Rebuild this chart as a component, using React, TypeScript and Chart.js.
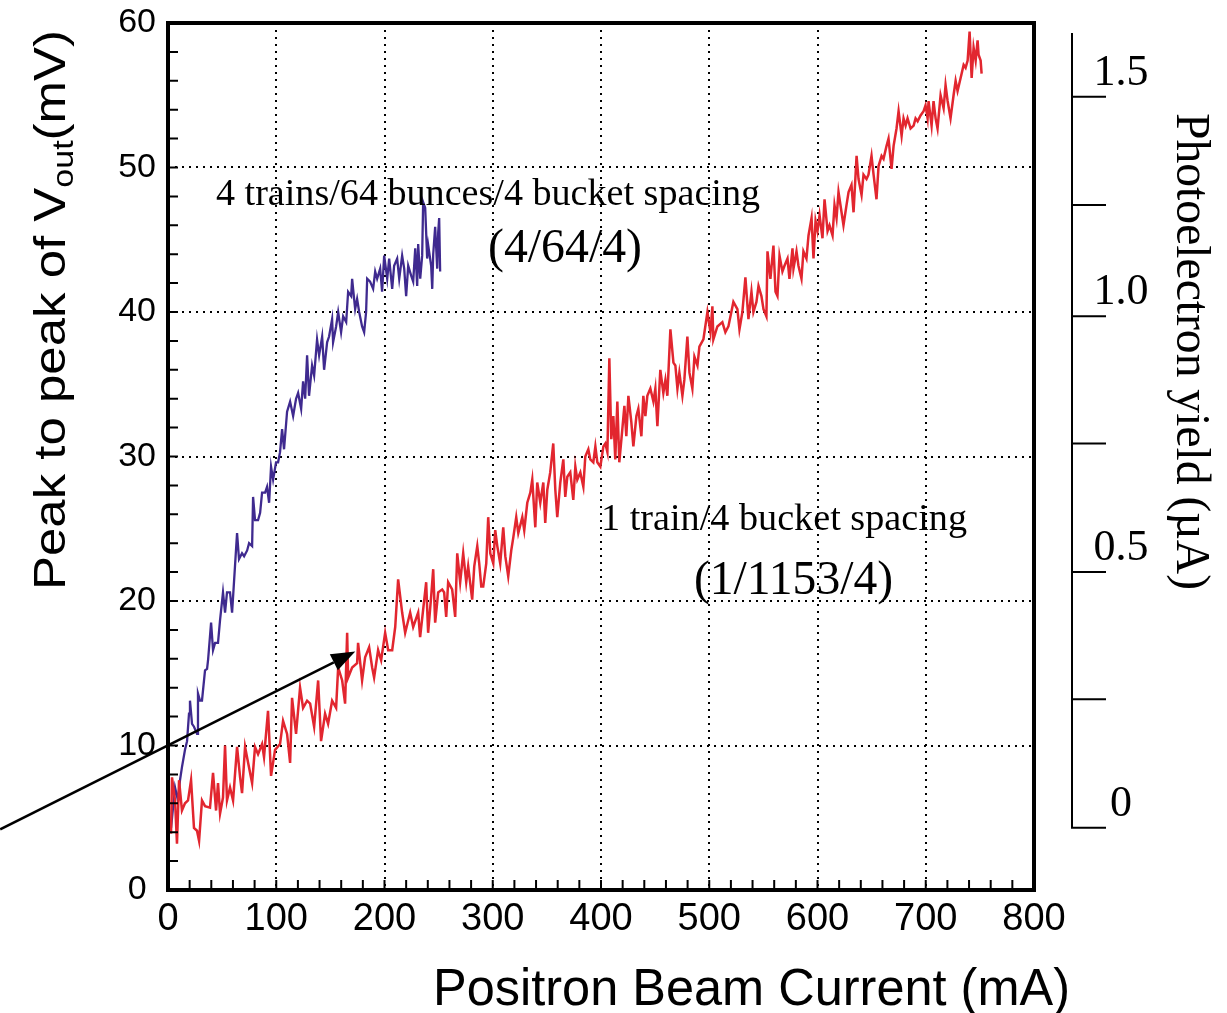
import React, { useEffect, useRef } from 'react';
import { Chart, registerables } from 'chart.js';

Chart.register(...registerables);

// ---------- data (mA, mV) ----------
const redSeries: [number, number][] = [
  [2.8, 3.9], [3.7, 7.8], [6.5, 6.2], [8.3, 3.2], [10.2, 7.6], [12.9, 5.5], [15.7, 6.0], [18.5, 6.2], [21.3, 7.6], [24.0, 4.3],
  [26.8, 4.1], [28.7, 3.4], [31.4, 6.2], [34.2, 5.8], [38.8, 5.7], [41.6, 8.1], [44.4, 5.5], [46.2, 7.4], [48.1, 5.3], [50.8, 6.4],
  [52.7, 10.0], [54.5, 6.2], [57.3, 7.1], [60.1, 6.2], [63.8, 9.9], [66.6, 7.8], [68.4, 6.7], [71.2, 9.9], [74.0, 8.8], [77.7, 7.4],
  [80.4, 9.9], [83.2, 9.4], [86.9, 10.1], [88.7, 9.2], [92.4, 12.4], [95.2, 7.9], [98.9, 9.7], [103.5, 10.1], [106.3, 11.7], [110.0, 10.8],
  [112.8, 8.8], [114.6, 13.3], [118.3, 10.8], [122.0, 14.0], [124.8, 12.6], [128.5, 13.1], [131.3, 12.9], [135.0, 11.3], [138.7, 14.5], [141.4, 10.3],
  [145.1, 12.2], [147.9, 11.5], [151.6, 13.1], [155.3, 12.6], [157.2, 15.4], [160.9, 14.5], [163.6, 12.9], [165.5, 17.8], [166.4, 14.7], [170.1, 15.4],
  [174.7, 15.7], [175.6, 17.1], [179.3, 14.5], [182.1, 16.1], [185.8, 16.8], [188.6, 15.4], [190.4, 14.7], [194.1, 16.6], [196.9, 15.9], [200.6, 17.8],
  [203.4, 16.6], [207.1, 16.6], [209.9, 18.2], [212.6, 21.5], [216.3, 19.2], [219.1, 17.8], [223.7, 19.2], [226.5, 18.2], [231.1, 19.2],
  [232.9, 17.5], [235.7, 19.4], [238.5, 21.3], [240.3, 17.8], [243.1, 20.3], [245.0, 22.2], [246.8, 18.5], [249.6, 20.6], [253.3, 20.8], [255.1, 20.6],
  [257.0, 18.9], [258.8, 21.3], [262.5, 20.8], [265.3, 18.9], [267.2, 23.3], [269.9, 21.3], [272.7, 23.3], [275.5, 21.3], [277.3, 22.4], [281.0, 20.1],
  [282.9, 22.4], [285.7, 23.8], [287.5, 22.6], [289.4, 21.0], [291.2, 21.0], [294.0, 22.6], [295.8, 25.8], [297.7, 23.3], [300.5, 22.6], [302.3, 24.9],
  [304.2, 23.8], [306.9, 22.6], [309.7, 25.1], [311.6, 23.1], [314.3, 21.7], [317.1, 23.5], [319.0, 24.4], [321.7, 25.8], [323.6, 24.7], [327.3, 25.8],
  [329.1, 24.9], [331.9, 26.8], [334.7, 27.5], [336.5, 28.4], [339.3, 25.1], [341.1, 28.2], [343.9, 26.8], [346.7, 28.2], [348.5, 25.4], [350.4, 27.7],
  [353.1, 28.9], [355.9, 30.9], [357.8, 27.7], [359.6, 25.8], [362.4, 28.2], [365.2, 29.8], [367.0, 27.2], [368.9, 28.6], [371.6, 28.9], [374.4, 27.0],
  [376.3, 29.3], [378.1, 28.4], [380.9, 28.9], [383.7, 27.9], [385.5, 30.0], [388.3, 30.5], [390.1, 29.8], [392.9, 29.6], [394.8, 30.7], [396.6, 29.6],
  [399.4, 29.3], [402.2, 30.7], [404.0, 30.9], [405.9, 30.3], [407.7, 36.8], [409.5, 31.2], [411.4, 32.8], [413.2, 29.8], [415.1, 33.8], [416.9, 29.6],
  [419.7, 31.9], [421.6, 33.5], [423.4, 31.4], [425.3, 34.2], [428.0, 32.4], [429.9, 30.7], [432.7, 32.8], [434.5, 33.3], [437.3, 31.4], [439.1, 34.2],
  [441.0, 32.8], [442.8, 34.2], [445.6, 34.7], [448.4, 33.8], [450.2, 34.7], [452.1, 32.1], [454.8, 36.0], [457.6, 34.4], [459.5, 35.3], [461.3, 34.2],
  [464.1, 38.8], [466.9, 36.5], [468.7, 36.3], [470.6, 34.7], [472.4, 35.8], [475.2, 34.2], [477.0, 35.3], [479.8, 38.3], [481.7, 35.8], [484.4, 34.7],
  [486.3, 36.9], [489.1, 36.3], [490.9, 37.6], [494.6, 38.1], [498.3, 40.0], [501.1, 38.6], [502.9, 40.4], [503.8, 38.1], [507.5, 39.0], [512.1, 39.3],
  [514.9, 38.6], [517.7, 39.0], [522.3, 40.7], [526.0, 40.2], [527.9, 38.8], [530.6, 40.0], [533.4, 42.4], [536.2, 39.5], [539.0, 41.4], [540.8, 40.0],
  [543.6, 40.7], [545.5, 41.8], [548.2, 41.1], [550.1, 40.2], [552.8, 39.7], [553.8, 44.2], [556.5, 42.3], [559.3, 44.6], [561.2, 41.4], [563.0, 41.1],
  [564.9, 43.9], [567.6, 42.8], [569.5, 43.2], [572.3, 43.7], [574.1, 42.3], [576.9, 44.4], [577.8, 43.0], [580.6, 44.2], [582.4, 43.2], [585.2, 42.3],
  [587.0, 44.2], [589.8, 43.7], [591.7, 45.3], [594.5, 46.5], [596.3, 43.7], [598.2, 46.3], [600.0, 45.6], [601.9, 46.7], [604.6, 45.1], [606.5, 47.8],
  [609.3, 45.6], [611.1, 46.0], [613.9, 45.3], [615.7, 47.4], [617.6, 46.5], [619.4, 48.3], [622.2, 46.9], [624.0, 46.0], [626.8, 47.4], [628.7, 48.3],
  [631.4, 48.8], [633.3, 46.9], [636.1, 50.8], [637.9, 49.2], [640.7, 48.1], [642.5, 49.5], [645.3, 49.2], [647.1, 49.5], [649.9, 50.8], [651.8, 49.5],
  [654.5, 47.8], [656.4, 50.1], [659.2, 50.8], [661.0, 50.6], [663.8, 51.5], [665.6, 52.0], [668.4, 49.9], [670.3, 51.5], [673.0, 52.7], [674.9, 53.9],
  [677.7, 52.2], [679.5, 53.4], [681.4, 52.9], [683.2, 53.4], [686.0, 52.7], [688.8, 52.9], [690.6, 53.4], [692.5, 53.2], [695.2, 53.6], [698.0, 53.9],
  [699.8, 54.3], [701.7, 53.4], [702.6, 54.6], [705.4, 52.9], [707.2, 54.6], [709.1, 53.4], [710.9, 52.7], [713.7, 55.0], [716.5, 54.1], [718.3, 55.7],
  [720.2, 54.6], [722.9, 53.4], [725.7, 55.0], [727.6, 56.0], [729.4, 55.3], [732.2, 56.2], [735.0, 57.1], [736.8, 56.9], [738.7, 57.4], [740.5, 59.4],
  [742.4, 56.2], [744.2, 58.3], [746.1, 57.4], [747.9, 58.8], [748.8, 57.8], [750.7, 57.4], [751.6, 56.5],
];

const blueSeries: [number, number][] = [
  [2.8, 4.3], [6.5, 7.1], [9.2, 6.2], [11.1, 7.6], [12.9, 8.5], [15.7, 9.7], [17.6, 10.3], [19.4, 12.2], [20.3, 13.1], [22.2, 11.5],
  [24.0, 11.3], [26.8, 10.8], [27.7, 13.6], [29.6, 13.1], [31.4, 13.1], [34.2, 15.2], [36.1, 15.3], [37.0, 15.9], [39.8, 18.5], [41.6, 16.6],
  [43.5, 17.1], [46.2, 17.1], [48.1, 18.7], [50.8, 20.6], [52.7, 19.2], [54.5, 20.6], [57.3, 20.6], [59.2, 19.2], [63.8, 24.7], [65.6, 22.9],
  [68.4, 23.3], [70.3, 23.1], [73.1, 23.5], [74.9, 24.0], [77.7, 23.8], [78.6, 27.2], [80.4, 25.6], [83.2, 25.6], [85.1, 26.1], [86.9, 27.5],
  [89.7, 27.5], [91.5, 27.9], [93.4, 26.8], [95.2, 29.3], [97.1, 28.4], [99.8, 29.6], [101.7, 29.6], [103.5, 30.3], [105.4, 31.9], [107.2, 30.5],
  [110.0, 33.1], [112.8, 33.8], [115.6, 32.8], [118.3, 34.0], [120.2, 34.4], [123.0, 33.3], [124.8, 35.2], [126.7, 34.0], [128.5, 37.0], [130.3, 34.2],
  [133.1, 36.3], [135.0, 35.6], [137.7, 38.1], [139.6, 37.0], [142.4, 38.3], [144.2, 36.0], [147.0, 37.9], [148.8, 38.3], [151.6, 39.5], [152.5, 37.9],
  [155.3, 39.0], [157.2, 40.0], [159.9, 38.6], [161.8, 39.7], [164.6, 39.3], [166.4, 41.4], [169.2, 41.1], [170.1, 42.3], [171.0, 41.6], [172.9, 40.2],
  [174.7, 40.9], [176.6, 40.0], [179.3, 39.0], [181.2, 38.6], [183.0, 40.0], [184.0, 42.3], [186.7, 42.1], [189.5, 41.6], [191.4, 42.8], [193.2, 42.3],
  [196.0, 43.0], [197.8, 41.4], [199.7, 43.9], [202.5, 42.3], [204.3, 43.7], [207.1, 41.6], [208.9, 43.2], [211.7, 43.7], [213.6, 42.3], [216.3, 43.9],
  [218.2, 43.0], [220.0, 41.1], [221.9, 43.2], [224.7, 42.5], [226.5, 42.1], [228.4, 44.4], [230.2, 41.8], [231.1, 44.7], [233.0, 42.3], [234.8, 43.9],
  [235.7, 47.6], [237.6, 47.2], [239.4, 43.7], [240.4, 44.6], [243.1, 43.2], [244.1, 41.6], [245.0, 44.0], [246.8, 45.9], [248.7, 43.0], [249.6, 45.5],
  [250.5, 46.5], [251.4, 42.8],
];

// axes
const xTickValues = [0, 100, 200, 300, 400, 500, 600, 700, 800];
const yTickValues = [0, 10, 20, 30, 40, 50, 60];
const xMinorTicks = [20, 40, 60, 80, 100, 120, 140, 160, 180, 200, 220, 240, 260, 280, 300, 320, 340, 360, 380, 400,
  420, 440, 460, 480, 500, 520, 540, 560, 580, 600, 620, 640, 660, 680, 700, 720, 740, 760, 780];
const yMinorTicks = [2, 4, 6, 8, 10, 12, 14, 16, 18, 20, 22, 24, 26, 28, 30, 32, 34, 36, 38, 40, 42, 44, 46, 48, 50, 52, 54, 56, 58];

// secondary (photoelectron yield) axis: yield value -> equivalent Vout (mV) calibration
const yieldTickLabels = ['0', '', '0.5', '', '1.0', '', '1.5'];
const yieldTickVout = [4.3, 13.2, 22.0, 30.9, 39.7, 47.4, 54.9];
const yieldAxisTopVout = 59.3;

// arrow (mA, mV)
const arrowFrom: [number, number] = [-155, 4.2];
const arrowTo: [number, number] = [173, 16.5];

// texts
const xTitle = 'Positron Beam Current (mA)';
const yTitleMain = 'Peak to peak of V';
const yTitleSub = 'out';
const yTitleEnd = '(mV)';
const y2Title = 'Photoelectron yield (\u00b5A)';
const label1a = '4 trains/64 bunces/4 bucket spacing';
const label1b = '(4/64/4)';
const label2a = '1 train/4 bucket spacing';
const label2b = '(1/1153/4)';

const SANS = '"Liberation Sans", Arial, Helvetica, sans-serif';
const SERIF = '"Liberation Serif", "Times New Roman", Times, serif';

function fitText(ctx: CanvasRenderingContext2D, text: string, x: number, y: number, width: number) {
  const w = ctx.measureText(text).width;
  ctx.save();
  ctx.translate(x, y);
  ctx.scale(width / w, 1);
  ctx.fillText(text, 0, 0);
  ctx.restore();
}

const decorPlugin = {
  id: 'decor',
  afterDatasetsDraw(chart: any) {
    const { ctx, chartArea: a, scales } = chart;
    const xs = scales.x;
    const ys = scales.y;
    ctx.save();
    ctx.strokeStyle = '#000';
    ctx.fillStyle = '#000';
    ctx.setLineDash([]);

    // inner minor ticks
    ctx.lineWidth = 2;
    ctx.beginPath();
    for (const v of yMinorTicks) {
      const py = ys.getPixelForValue(v);
      ctx.moveTo(a.left, py);
      ctx.lineTo(a.left + 10, py);
    }
    for (const v of xMinorTicks) {
      const px = xs.getPixelForValue(v);
      ctx.moveTo(px, a.bottom);
      ctx.lineTo(px, a.bottom - 10);
    }
    ctx.stroke();

    // frame
    ctx.lineWidth = 4;
    ctx.strokeRect(a.left, a.top, a.right - a.left, a.bottom - a.top);

    // arrow
    const x0 = xs.getPixelForValue(arrowFrom[0]);
    const y0 = ys.getPixelForValue(arrowFrom[1]);
    const x1 = xs.getPixelForValue(arrowTo[0]);
    const y1 = ys.getPixelForValue(arrowTo[1]);
    const ang = Math.atan2(y1 - y0, x1 - x0);
    const hl = 24, hw = 9;
    const bx = x1 - hl * Math.cos(ang), by = y1 - hl * Math.sin(ang);
    ctx.lineWidth = 2.5;
    ctx.beginPath();
    ctx.moveTo(x0, y0);
    ctx.lineTo(bx, by);
    ctx.stroke();
    ctx.beginPath();
    ctx.moveTo(x1, y1);
    ctx.lineTo(bx + hw * Math.sin(ang), by - hw * Math.cos(ang));
    ctx.lineTo(bx - hw * Math.sin(ang), by + hw * Math.cos(ang));
    ctx.closePath();
    ctx.fill();

    // secondary axis
    const rx = a.right + 38;
    ctx.lineWidth = 2;
    ctx.beginPath();
    ctx.moveTo(rx, ys.getPixelForValue(yieldAxisTopVout));
    ctx.lineTo(rx, ys.getPixelForValue(yieldTickVout[0]) + 1);
    for (const v of yieldTickVout) {
      const py = ys.getPixelForValue(v);
      ctx.moveTo(rx, py);
      ctx.lineTo(rx + 34, py);
    }
    ctx.stroke();
    ctx.font = `44px ${SERIF}`;
    ctx.textAlign = 'center';
    ctx.textBaseline = 'alphabetic';
    yieldTickLabels.forEach((lab, i) => {
      if (!lab) return;
      const py = ys.getPixelForValue(yieldTickVout[i]);
      ctx.fillText(lab, rx + 49, py - 12);
    });

    // annotations
    ctx.textAlign = 'left';
    ctx.font = `38px ${SERIF}`;
    fitText(ctx, label1a, 216, 205, 544);
    fitText(ctx, label2a, 601, 530, 366);
    ctx.font = `48px ${SERIF}`;
    fitText(ctx, label1b, 488, 262, 154);
    fitText(ctx, label2b, 694, 594, 199);

    // x title
    ctx.font = `52px ${SANS}`;
    fitText(ctx, xTitle, 433, 1005, 637);

    // left title with subscript
    ctx.save();
    ctx.translate(65, 590);
    ctx.rotate(-Math.PI / 2);
    const bigF = `45px ${SANS}`, smallF = `30px ${SANS}`;
    ctx.font = bigF;
    const w1 = ctx.measureText(yTitleMain).width;
    const w3 = ctx.measureText(yTitleEnd).width;
    ctx.font = smallF;
    const w2 = ctx.measureText(yTitleSub).width;
    const total = w1 + w2 + w3;
    ctx.scale(560 / total, 1);
    ctx.font = bigF;
    ctx.fillText(yTitleMain, 0, 0);
    ctx.font = smallF;
    ctx.fillText(yTitleSub, w1, 8);
    ctx.font = bigF;
    ctx.fillText(yTitleEnd, w1 + w2, 0);
    ctx.restore();

    // right title
    ctx.save();
    ctx.translate(1177, 113);
    ctx.rotate(Math.PI / 2);
    ctx.font = `48px ${SERIF}`;
    fitText(ctx, y2Title, 0, 0, 477);
    ctx.restore();

    ctx.restore();
  },
};

export default function App() {
  const ref = useRef<HTMLCanvasElement>(null);
  useEffect(() => {
    if (!ref.current) return;
    const chart = new Chart(ref.current, {
      type: 'line',
      data: {
        datasets: [
          {
            label: '1 train/4 bucket spacing',
            data: redSeries.map(([x, y]) => ({ x, y })),
            borderColor: '#e2262f',
            borderWidth: 2.5,
            pointRadius: 0,
            tension: 0,
            fill: false,
          },
          {
            label: '4 trains/64 bunces/4 bucket spacing',
            data: blueSeries.map(([x, y]) => ({ x, y })),
            borderColor: '#3f2a8f',
            borderWidth: 2.3,
            pointRadius: 0,
            tension: 0,
            fill: false,
          },
        ],
      },
      options: {
        animation: false,
        responsive: false,
        devicePixelRatio: 1,
        layout: { padding: { left: 0, top: 23, right: 193, bottom: 0 } },
        plugins: { legend: { display: false }, tooltip: { enabled: false }, title: { display: false } },
        scales: {
          x: {
            type: 'linear',
            min: 0,
            max: 800,
            afterBuildTicks: (s: any) => { s.ticks = xTickValues.map((v) => ({ value: v })); },
            afterFit: (s: any) => { s.height = 123; s.paddingLeft = 0; s.paddingRight = 0; },
            ticks: {
              font: { family: SANS, size: 38 },
              color: '#000',
              padding: 7,
              maxRotation: 0,
              autoSkip: false,
            },
            grid: { color: '#000', lineWidth: 2, drawTicks: false },
            border: { display: false, dash: [2, 5] },
          },
          y: {
            type: 'linear',
            min: 0,
            max: 60,
            afterBuildTicks: (s: any) => { s.ticks = yTickValues.map((v) => ({ value: v })); },
            afterFit: (s: any) => { s.width = 168; s.paddingTop = 0; s.paddingBottom = 0; },
            ticks: {
              font: { family: SANS, size: 34 },
              color: '#000',
              padding: 12,
              crossAlign: 'center',
              autoSkip: false,
            },
            grid: { color: '#000', lineWidth: 2, drawTicks: false },
            border: { display: false, dash: [2, 5] },
          },
        },
      },
      plugins: [decorPlugin],
    } as any);
    return () => chart.destroy();
  }, []);
  return (
    <div style={{ position: 'fixed', left: 0, top: 0, width: 1227, height: 1013, background: '#fff' }}>
      <canvas ref={ref} width={1227} height={1013} style={{ display: 'block', width: 1227, height: 1013 }} />
    </div>
  );
}
